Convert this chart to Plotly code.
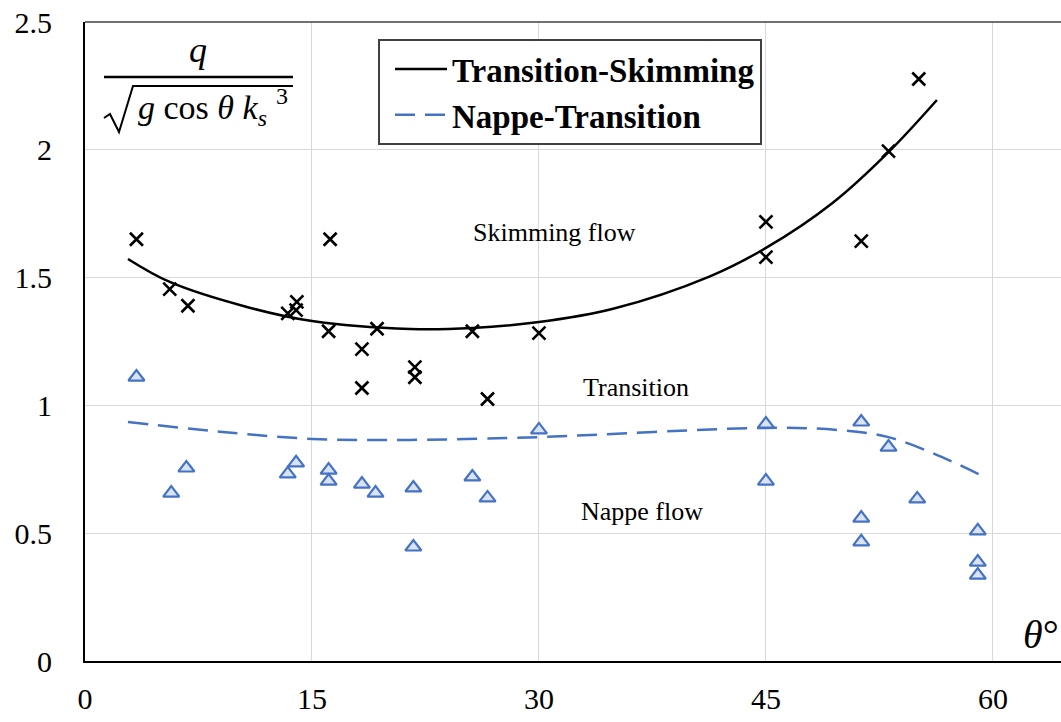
import plotly.graph_objects as go

# Observed points (angle in degrees, dimensionless discharge)
ts_obs_x = [3.4, 5.6, 6.8, 13.4, 14.0, 13.95, 16.2, 16.1, 18.3, 18.3, 19.3, 21.8, 21.8,
            25.6, 26.6, 30.0, 45.0, 45.0, 51.3, 53.1, 55.1]
ts_obs_y = [1.65, 1.455, 1.39, 1.36, 1.405, 1.373, 1.65, 1.29, 1.22, 1.068, 1.30, 1.15, 1.11,
            1.29, 1.025, 1.283, 1.718, 1.58, 1.643, 1.995, 2.277]

nt_obs_x = [3.4, 5.7, 6.7, 13.4, 13.95, 16.1, 16.1, 18.3, 19.2, 21.7, 21.7, 25.6, 26.6,
            30.0, 45.0, 45.0, 51.3, 51.3, 51.3, 53.1, 55.0, 59.0, 59.0, 59.0]
nt_obs_y = [1.111, 0.657, 0.755, 0.732, 0.775, 0.747, 0.704, 0.692, 0.657, 0.677, 0.446,
            0.72, 0.638, 0.904, 0.927, 0.704, 0.935, 0.559, 0.466, 0.837, 0.634, 0.509,
            0.387, 0.336]

# Boundary curves
ts_curve_x = [2.84, 5.6, 10.7, 15.0, 21.5, 25.6, 30.0, 34.9, 41.3, 45.0, 49.4, 53.1, 56.3]
ts_curve_y = [1.573, 1.483, 1.385, 1.330, 1.299, 1.303, 1.326, 1.378, 1.505, 1.616, 1.792, 1.991, 2.195]

nt_curve_x = [2.84, 8.9, 15.0, 21.5, 30.0, 34.0, 41.3, 45.0, 47.7, 51.3, 53.1, 56.0, 59.6]
nt_curve_y = [0.935, 0.897, 0.869, 0.865, 0.876, 0.886, 0.906, 0.912, 0.911, 0.895, 0.876, 0.814, 0.716]

x_ticks = [0, 15, 30, 45, 60]
y_ticks = [0, 0.5, 1, 1.5, 2, 2.5]
y_ticktext = ["0", "0.5", "1", "1.5", "2", "2.5"]

FONT = "Liberation Serif"
BLUE = "#4472C4"

fig = go.Figure()

fig.add_trace(go.Scatter(
    x=ts_curve_x, y=ts_curve_y, mode="lines", name="<b>Transition-Skimming</b>",
    line=dict(color="black", width=2.5, shape="spline", smoothing=1.0)))
fig.add_trace(go.Scatter(
    x=nt_curve_x, y=nt_curve_y, mode="lines", name="<b>Nappe-Transition</b>",
    line=dict(color=BLUE, width=2.5, dash="20px,10px", shape="spline", smoothing=1.0)))

fig.add_trace(go.Scatter(
    x=ts_obs_x, y=ts_obs_y, mode="markers", showlegend=False,
    marker=dict(symbol="x-thin", size=13, color="black",
                line=dict(color="black", width=2.6))))
fig.add_trace(go.Scatter(
    x=nt_obs_x, y=nt_obs_y, mode="markers", showlegend=False,
    marker=dict(symbol="triangle-up", size=14, color="#DAE3F3",
                line=dict(color=BLUE, width=2.2))))

W, H = 1061, 722
L, R, T, B = 85, 0, 22, 61
pw, ph = W - L - R, H - T - B


def px(x):
    return (x - L) / pw


def py(y):
    return (H - B - y) / ph


def ann(x, y, text, size, xanchor="center", ref="paper"):
    return dict(x=x, y=y, xref=ref if ref == "paper" else "x", yref=ref if ref == "paper" else "y",
                text=text, showarrow=False, xanchor=xanchor, yanchor="middle",
                font=dict(family=FONT, size=size, color="black"))


annotations = [
    ann(31.0, 1.678, "Skimming flow", 26, ref="data"),
    ann(36.4, 1.072, "Transition", 26, ref="data"),
    ann(36.8, 0.583, "Nappe flow", 26, ref="data"),
    # y-axis quantity written as a fraction
    ann(px(198), py(50), "<i>q</i>", 36),
    ann(px(136), py(110), "<i>g</i> cos <i>θ</i> <i>k<sub>s</sub></i>", 34, xanchor="left"),
    ann(px(282), py(96), "3", 24),
    # x-axis quantity
    ann(1.0, py(634), "<i>θ</i>°", 40, xanchor="right"),
]

shapes = [
    # top border of the plot area
    dict(type="line", xref="paper", yref="paper", x0=0, x1=1, y0=1, y1=1,
         line=dict(color="#404040", width=1.5)),
    # fraction bar
    dict(type="line", xref="paper", yref="paper", x0=px(104), x1=px(293), y0=py(77), y1=py(77),
         line=dict(color="black", width=2.5)),
    # radical sign
    dict(type="path", xref="paper", yref="paper",
         path="M{:.5f},{:.5f} L{:.5f},{:.5f} L{:.5f},{:.5f} L{:.5f},{:.5f} L{:.5f},{:.5f}".format(
             px(104), py(118), px(110), py(114), px(119), py(132), px(133), py(86), px(293), py(86)),
         line=dict(color="black", width=2)),
]

fig.update_layout(
    width=W, height=H,
    margin=dict(l=L, r=R, t=T, b=B, pad=0, autoexpand=False),
    paper_bgcolor="white", plot_bgcolor="white",
    font=dict(family=FONT, color="black"),
    xaxis=dict(range=[0, 64.5], tickvals=x_ticks, ticktext=[str(v) for v in x_ticks],
               showgrid=True, gridcolor="#D9D9D9", gridwidth=1, automargin=False,
               showline=True, linecolor="black", linewidth=2, zeroline=False,
               ticks="", ticklabelstandoff=10,
               tickfont=dict(family=FONT, size=30, color="black")),
    yaxis=dict(range=[0, 2.5], tickvals=y_ticks, ticktext=y_ticktext,
               showgrid=True, gridcolor="#D9D9D9", gridwidth=1, automargin=False,
               showline=True, linecolor="black", linewidth=2, zeroline=False,
               ticks="", ticklabelstandoff=25,
               tickfont=dict(family=FONT, size=30, color="black")),
    legend=dict(x=px(378), y=py(39), xanchor="left", yanchor="top",
                bgcolor="white", bordercolor="#404040", borderwidth=2,
                font=dict(family=FONT, size=33, color="black"),
                itemwidth=52, indentation=10, tracegroupgap=0),
    annotations=annotations,
    shapes=shapes,
)

fig.write_html("out.html", config={"displayModeBar": False},
               post_script="document.body.style.margin='0';document.body.style.overflow='hidden';")
